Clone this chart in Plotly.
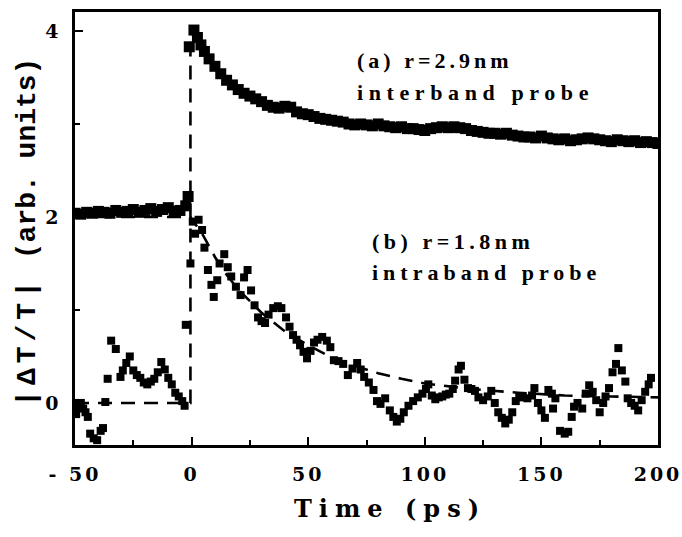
import plotly.graph_objects as go

# (a) r=2.9 nm, interband probe: delay (ps) and |dT/T| (arb. units)
a_time = [-50, -47.5, -45, -42.5, -40, -37.5, -35, -32.5, -30, -27.5, -25, -22.5, -20,
          -17.5, -15, -12.5, -10, -7.5, -5, -2.5, -1.5, -1, 1, 2.5, 4, 5.5, 7.5, 10,
          12.5, 15, 17.5, 20, 22.5, 25, 27.5, 30, 32.5, 35, 37.5, 40, 42.5, 45, 47.5,
          50, 52.5, 55, 57.5, 60, 62.5, 65, 67.5, 70, 72.5, 75, 77.5, 80, 82.5, 85,
          87.5, 90, 92.5, 95, 97.5, 100, 102.5, 105, 107.5, 110, 112.5, 115, 117.5,
          120, 122.5, 125, 127.5, 130, 132.5, 135, 137.5, 140, 142.5, 145, 147.5, 150,
          152.5, 155, 157.5, 160, 162.5, 165, 167.5, 170, 172.5, 175, 177.5, 180,
          182.5, 185, 187.5, 190, 192.5, 195, 197.5, 200]
a_signal = [2.04, 2.03, 2.05, 2.04, 2.06, 2.05, 2.04, 2.07, 2.05, 2.06, 2.08, 2.05, 2.07,
            2.09, 2.06, 2.08, 2.10, 2.06, 2.07, 2.12, 2.22, 3.83, 4.01, 3.93, 3.85, 3.78,
            3.70, 3.62, 3.54, 3.47, 3.42, 3.37, 3.33, 3.30, 3.27, 3.24, 3.20, 3.18, 3.17,
            3.19, 3.18, 3.13, 3.11, 3.10, 3.08, 3.06, 3.05, 3.04, 3.03, 3.02, 3.00, 2.99,
            3.00, 2.99, 2.98, 3.00, 2.98, 2.97, 2.96, 2.97, 2.95, 2.95, 2.94, 2.93, 2.95,
            2.96, 2.97, 2.96, 2.97, 2.96, 2.95, 2.93, 2.92, 2.91, 2.90, 2.90, 2.89, 2.90,
            2.88, 2.87, 2.86, 2.86, 2.85, 2.87, 2.85, 2.84, 2.83, 2.84, 2.82, 2.83, 2.84,
            2.85, 2.84, 2.83, 2.82, 2.81, 2.83, 2.82, 2.81, 2.82, 2.80, 2.81, 2.80, 2.79]

# (b) r=1.8 nm, intraband probe
b_time = [-50, -49.5, -48.5, -47.5, -46.5, -45.5, -44.5, -43.5, -42, -40.5, -39, -38,
          -37, -36, -34.5, -32.5, -30.5, -29.5, -28, -26.5, -25, -23.5, -22, -20.5,
          -19, -17.5, -16, -14.5, -13, -11.5, -10, -8.5, -7, -5.5, -4, -3, -2.5, -0.5,
          0.5, 1.5, 3, 4.5, 5.5, 7, 8.5, 9.5, 11, 12, 14, 15.5, 17, 19, 21, 22.5, 24,
          25.5, 27, 28.5, 30, 31.5, 33, 35, 37, 38.5, 40.5, 42, 43.5, 45, 46.5, 48,
          49.5, 51, 52.5, 54, 56, 58, 59.5, 61, 63, 65, 67, 69, 71, 72.5, 74, 76, 78,
          79.5, 81, 83, 85, 86.5, 88, 89.5, 91, 93, 95, 97, 99, 100.5, 101.5, 103,
          104.5, 106, 107.5, 109, 110.5, 112, 113, 114.5, 115.5, 117, 118.5, 120,
          121.5, 123, 125, 127, 128.5, 130, 131.5, 133, 134.5, 136, 137.5, 139, 140.5,
          142, 144, 146, 147, 148.5, 150, 151.5, 153, 154.5, 155, 156, 158, 160, 161.5,
          163, 164, 165.5, 167.5, 169, 170.5, 172, 173.5, 175, 176.5, 177.5, 179,
          180.5, 182, 183, 184.5, 186, 187, 188.5, 190, 191.5, 193, 194.5, 196, 197]
b_signal = [0.00, -0.12, -0.05, 0.00, -0.06, -0.10, -0.15, -0.33, -0.38, -0.40, -0.30, -0.27,
            0.01, 0.26, 0.67, 0.58, 0.28, 0.35, 0.43, 0.50, 0.35, 0.30, 0.27, 0.22,
            0.20, 0.23, 0.26, 0.33, 0.44, 0.36, 0.27, 0.20, 0.11, 0.07, 0.02, -0.03, 0.84, 1.50,
            1.95, 1.82, 1.97, 1.86, 1.67, 1.43, 1.27, 1.14, 1.32, 1.50, 1.60, 1.46, 1.36, 1.25,
            1.16, 1.35, 1.43, 1.21, 1.05, 0.92, 0.88, 0.86, 0.95, 1.02, 1.04, 1.02, 0.92, 0.82,
            0.73, 0.68, 0.62, 0.55, 0.48, 0.56, 0.65, 0.68, 0.71, 0.67, 0.60, 0.46, 0.45, 0.42,
            0.30, 0.37, 0.43, 0.36, 0.28, 0.22, 0.14, 0.02, -0.01, 0.05, -0.08, -0.15, -0.20,
            -0.17, -0.10, -0.03, 0.02, 0.06, 0.10, 0.15, 0.20, 0.08, 0.04, 0.06, 0.07, 0.09,
            0.10, 0.15, 0.24, 0.36, 0.40, 0.25, 0.16, 0.15, 0.13, 0.06, 0.03, 0.07, 0.13, 0.00,
            -0.10, -0.16, -0.22, -0.18, -0.10, 0.02, 0.07, 0.06, 0.05, 0.08, 0.16, 0.00, -0.08,
            -0.16, 0.14, 0.10, -0.06, 0.05, -0.30, -0.33, -0.31, -0.15, -0.04, 0.00, -0.06, 0.10,
            0.19, 0.12, 0.03, -0.10, 0.00, 0.07, 0.16, 0.33, 0.42, 0.59, 0.35, 0.23, 0.05, 0.00,
            -0.03, -0.08, 0.03, 0.12, 0.20, 0.27]

# Fitted response curves (dashed)
fit_a_time = [-50, -0.5, -0.5, 5, 10, 15, 20, 30, 40, 50, 60, 80, 100, 125, 150, 175, 200]
fit_a_signal = [2.0, 2.0, 4.0, 3.78, 3.60, 3.48, 3.38, 3.24, 3.15, 3.09, 3.04, 2.98, 2.94,
                2.90, 2.86, 2.83, 2.81]
fit_b_time = [-50, -0.5, -0.5, 5, 10, 15, 20, 30, 40, 50, 60, 70, 80, 90, 100, 120, 140,
              160, 180, 200]
fit_b_signal = [0.0, 0.0, 2.0, 1.80, 1.57, 1.38, 1.22, 0.97, 0.77, 0.62, 0.49, 0.40, 0.32,
                0.26, 0.21, 0.15, 0.11, 0.08, 0.07, 0.06]

x_tick_vals = [-50, 0, 50, 100, 150, 200]
x_tick_labels = ["- 50", "0", "50", "100", "150", "200"]
y_tick_vals = [0, 2, 4]
y_tick_labels = ["0", "2", "4"]

label_a = ["(a) r=2.9nm", "interband probe"]
label_b = ["(b) r=1.8nm", "intraband probe"]

SERIF = "DejaVu Serif"
TEXT_SERIF = "Liberation Serif"
MONO = "Liberation Mono"


def spaced(text, px):
    return '<span style="letter-spacing:%spx">%s</span>' % (px, text)


fig = go.Figure()

for t, v in ((fit_b_time, fit_b_signal), (fit_a_time, fit_a_signal)):
    fig.add_trace(go.Scatter(
        x=t, y=v, mode="lines",
        line=dict(color="black", width=2.6, dash="14px,9px"),
        hoverinfo="skip", showlegend=False,
    ))

fig.add_trace(go.Scatter(
    x=a_time, y=a_signal, mode="markers",
    marker=dict(symbol="square", size=11, color="black", line=dict(width=0)),
    showlegend=False,
))
fig.add_trace(go.Scatter(
    x=b_time, y=b_signal, mode="markers",
    marker=dict(symbol="square", size=8, color="black", line=dict(width=0)),
    showlegend=False,
))

axis_common = dict(
    showline=True, linecolor="black", linewidth=2.5, mirror=True,
    showgrid=False, zeroline=False,
    ticks="inside", tickcolor="black", tickwidth=2, ticklen=8,
    ticklabeloverflow="allow", automargin=False,
)

fig.update_xaxes(
    range=[-50, 200.001], tickmode="array", tickvals=x_tick_vals,
    ticktext=[spaced(s, 3) for s in x_tick_labels],
    tickfont=dict(family=SERIF, size=19, color="black", weight="bold"),
    minor=dict(dtick=25, ticks="inside", ticklen=5, tickwidth=1.5, tickcolor="black"),
    ticklabelstandoff=10,
    **axis_common,
)
fig.update_yaxes(
    range=[-0.452, 4.204], tickmode="array", tickvals=y_tick_vals,
    ticktext=y_tick_labels,
    tickfont=dict(family=SERIF, size=19, color="black", weight="bold"),
    minor=dict(dtick=1, ticks="inside", ticklen=5, tickwidth=1.5, tickcolor="black"),
    ticklabelstandoff=10,
    **axis_common,
)

annotations = [
    # axis titles
    dict(text=spaced("Time (ps)", 7), x=0.54, y=-0.1455, xref="paper", yref="paper",
         xanchor="center", yanchor="middle", showarrow=False,
         font=dict(family=SERIF, size=24, color="black", weight="bold")),
    dict(text=spaced("|ΔT/T|", 5) + " (arb. units)", x=-0.0806, y=0.49,
         xref="paper", yref="paper", xanchor="center", yanchor="middle",
         textangle=-90, showarrow=False,
         font=dict(family=MONO, size=28, color="black", weight="bold")),
]

# panel labels: (text, letter spacing, paper x, paper y)
panel_lines = [
    (label_a[0], 4.0, 0.480, 0.8890),
    (label_a[1], 5.6, 0.480, 0.8152),
    (label_b[0], 4.5, 0.506, 0.4711),
    (label_b[1], 5.0, 0.506, 0.3995),
]
for text, ls, xp, yp in panel_lines:
    annotations.append(dict(
        text=spaced(text, ls), x=xp, y=yp, xref="paper", yref="paper",
        xanchor="left", yanchor="middle", showarrow=False,
        font=dict(family=TEXT_SERIF, size=22, color="black", weight="bold"),
    ))

fig.update_layout(
    width=682, height=537,
    margin=dict(l=75, r=24, t=12, b=92),
    paper_bgcolor="white", plot_bgcolor="white",
    annotations=annotations,
)

fig.write_html("out.html")
